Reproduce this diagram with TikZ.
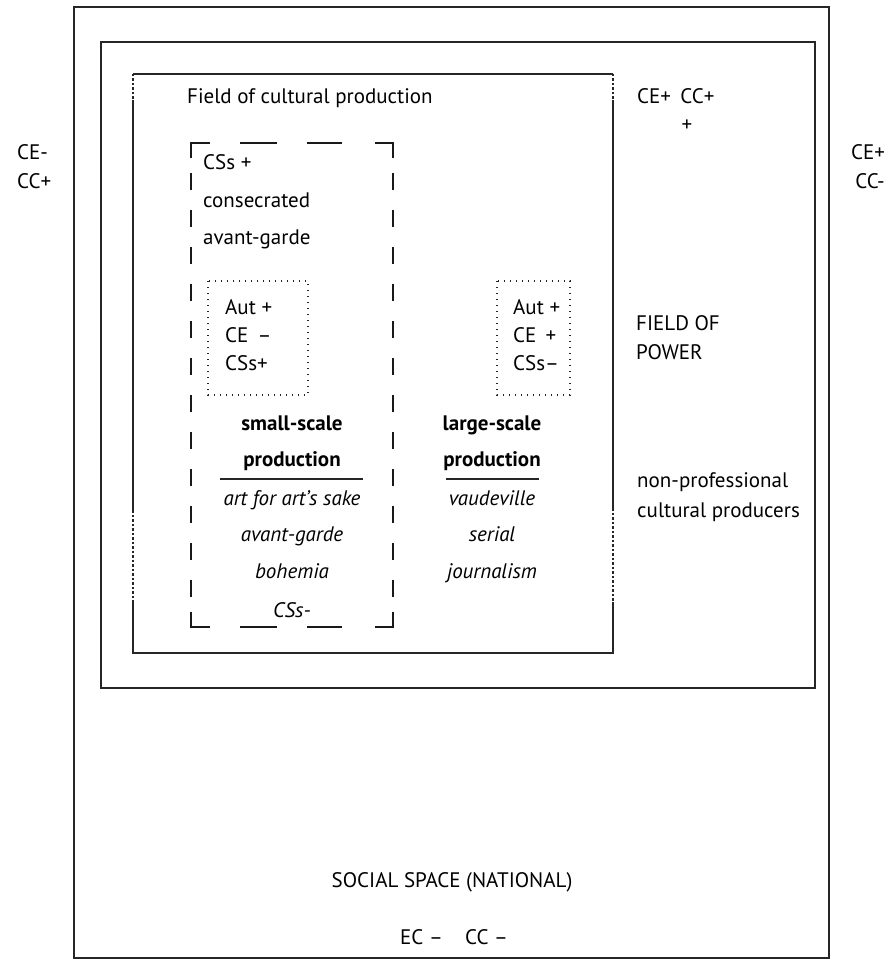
\documentclass[tikz,border=0pt]{standalone}
\usepackage{fontspec}
\setmainfont{PT Sans}
\begin{document}
\begin{tikzpicture}[x=1pt,y=-1pt,
  lbl/.style={inner sep=0pt, anchor=base west, font=\fontsize{21}{25}\selectfont},
  clbl/.style={inner sep=0pt, anchor=base, font=\fontsize{21}{25}\selectfont},
  bl/.style={inner sep=0pt, anchor=base, font=\fontsize{21}{25}\selectfont\bfseries},
  il/.style={inner sep=0pt, anchor=base, font=\fontsize{21}{25}\selectfont\itshape},
  frame/.style={line width=1.8pt, draw=black!85},
  dotseg/.style={line width=1.8pt, draw=black!85, dash pattern=on 2.5pt off 2pt},
  dashbox/.style={line width=1.8pt, draw=black!90},
  dotbox/.style={line width=1.4pt, draw=black!85, dash pattern=on 1.4pt off 4.6pt},
  rule/.style={line width=1.5pt, draw=black!85}]
\useasboundingbox (0,0) rectangle (889,960);
% outer and middle frames
\draw[frame] (74,7) rectangle (829,958);
\draw[frame] (101,42) rectangle (815,688);
% inner frame: field of cultural production
\draw[frame] (133,100) -- (133,510);
\draw[frame] (133,600) -- (133,653) -- (613,653) -- (613,602);
\draw[frame] (613,508) -- (613,100);
\draw[frame] (133,74) -- (613,74);
\draw[dotseg] (133,74) -- (133,100);
\draw[dotseg] (613,74) -- (613,100);
\draw[dotseg] (133,510) -- (133,600);
\draw[dotseg] (613,508) -- (613,602);
% dashed box (small-scale production)
\draw[dashbox] (191,158) -- (191,143) -- (210,143);
\draw[dashbox] (375,143) -- (393,143) -- (393,158);
\draw[dashbox] (191,612) -- (191,627) -- (210,627);
\draw[dashbox] (375,627) -- (393,627) -- (393,612);
\foreach \xa/\xb in {240/277,307/342}{
  \draw[dashbox] (\xa,143) -- (\xb,143);
  \draw[dashbox] (\xa,627) -- (\xb,627);
}
\foreach \yy in {173,210,...,590}{
  \draw[dashbox] (191,\yy) -- (191,\yy+17);
  \draw[dashbox] (393,\yy) -- (393,\yy+17);
}
% dotted boxes
\draw[dotbox] (208,281) rectangle (308,395);
\draw[dotbox] (497,281) rectangle (570,395);
% texts
\node[lbl] (fcp) at (187,104) {Field of cultural production};
\node[lbl] (cecc) at (637,104) {CE+\hspace{0.45em}CC+};
\node[clbl] (plus) at (687,132) {+};
\node[lbl] (ceL) at (17,160) {CE-};
\node[lbl] (ccL) at (17,188) {CC+};
\node[clbl] (ceR) at (868,160) {CE+};
\node[clbl] (ccR) at (870,188) {CC-};
\node[lbl] (css) at (203,170) {CSs +};
\node[lbl] (cons) at (203,207) {consecrated};
\node[lbl] (avg) at (203,244) {avant-garde};
\node[lbl] (autL) at (225,314) {Aut +};
\node[lbl] (ceLL) at (225,342) {CE \,–};
\node[lbl] (cssL) at (225,370) {CSs+};
\node[lbl] (autR) at (513,314) {Aut +};
\node[lbl] (ceRR) at (513,342) {CE \,+};
\node[lbl] (cssR) at (513,370) {CSs–};
\node[bl] (ss) at (292,430) {small-scale};
\node[bl] (prodS) at (292,466) {production};
\node[bl] (ls) at (492,430) {large-scale};
\node[bl] (prodL) at (492,466) {production};
\draw[rule] (220,479) -- (363,479);
\draw[rule] (446,479) -- (539,479);
\node[il] (afa) at (292,505) {art for art’s sake};
\node[il] (avg2) at (292,541) {avant-garde};
\node[il] (boh) at (292,578) {bohemia};
\node[il] (cssm) at (292,617) {CSs-};
\node[il] (vau) at (492,505) {vaudeville};
\node[il] (ser) at (492,541) {serial};
\node[il] (jou) at (492,578) {journalism};
\node[lbl] (fop1) at (636,330) {FIELD OF};
\node[lbl] (fop2) at (636,359) {POWER};
\node[lbl] (npc1) at (637,487) {non-professional};
\node[lbl] (npc2) at (637,517) {cultural producers};
\node[clbl] (ss2) at (452,887) {SOCIAL SPACE (NATIONAL)};
\node[lbl] (ec) at (400,944) {EC –};
\node[lbl] (cc) at (465,944) {CC –};
\end{tikzpicture}
\end{document}
